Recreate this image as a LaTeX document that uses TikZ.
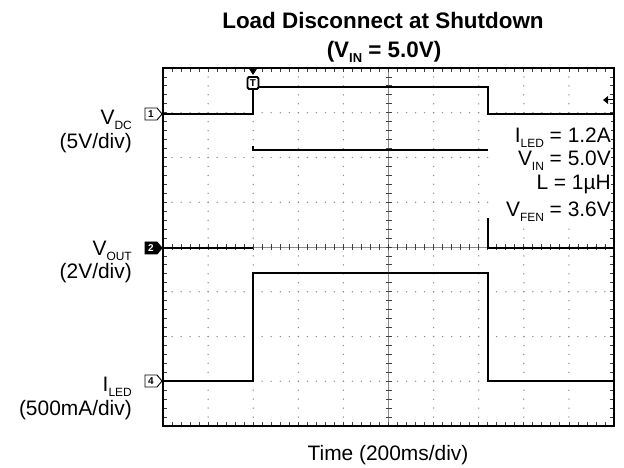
\documentclass[tikz,border=0pt]{standalone}
\usepackage{fontspec}
\setmainfont{Liberation Sans}
\newcommand\lsub[1]{\raisebox{-5bp}{\fontsize{12}{12}\selectfont #1}}
\begin{document}
\begin{tikzpicture}[x=1bp,y=-1bp,
 every node/.style={font=\fontsize{21}{24}\selectfont,inner sep=0pt},
 trace/.style={line width=2.6bp,line join=miter},
 tick/.style={black!75,line width=0.8bp}]
 \useasboundingbox (0,0) rectangle (624,468);
 % grid dots
 \foreach \i in {1,...,9}
  \foreach \k in {1,...,39}
   \fill [black!45] (163+45.1*\i,68+8.95*\k) circle (0.75);
 \foreach \j in {1,...,7}
  \foreach \k in {1,...,49}
   \fill [black!45] (163+9.02*\k,68+44.75*\j) circle (0.75);
 % centre axes and border ticks
 \draw [black!45,line width=0.6bp] (388.5,68) -- (388.5,426) (163,247) -- (614,247);
 \foreach \k in {1,...,39} {
  \draw [tick] (385.5,68+8.95*\k) -- (391.5,68+8.95*\k);
  \draw [tick] (163,68+8.95*\k) -- (167,68+8.95*\k);
  \draw [tick] (614,68+8.95*\k) -- (610,68+8.95*\k);
 }
 \foreach \k in {1,...,49} {
  \draw [tick] (163+9.02*\k,244) -- (163+9.02*\k,250);
  \draw [tick] (163+9.02*\k,68) -- (163+9.02*\k,72);
  \draw [tick] (163+9.02*\k,426) -- (163+9.02*\k,422);
 }
 \draw [line width=2.8bp] (163,68) rectangle (614,426);
 % traces
 \draw [trace] (163,114) -- (253,114) -- (253,87) -- (488,87) -- (488,114) -- (614,114);
 \draw [trace] (163,248) -- (253,248);
 \draw [trace] (253,146) -- (253,150) -- (488,150);
 \draw [trace] (488,218) -- (488,248) -- (614,248);
 \draw [trace] (163,381) -- (253,381) -- (253,273) -- (488,273) -- (488,381) -- (614,381);
 % trigger marks
 \fill (248.5,68) -- (257.5,68) -- (253,75) -- cycle;
 \draw [line width=1.8bp,fill=white,rounded corners=1.5bp] (247.5,77) rectangle (258.5,89);
 \node [font=\bfseries\fontsize{10}{10}\selectfont] (trig) at (253,83) {T};
 \fill (603,100) -- (608,96) -- (608,104) -- cycle;
 \draw [line width=1bp] (608,100) -- (613,100);
 % channel tags
 \foreach \n/\y/\f/\t in {1/114/white/black,2/248/black/white,4/381/white/black} {
  \draw [line width=0.9bp,fill=\f] (145,\y-6) -- (157,\y-6) -- (162,\y) -- (157,\y+6) -- (145,\y+6) -- cycle;
  \node [font=\bfseries\fontsize{10}{10}\selectfont,text=\t] (ch\n) at (151,\y) {\n};
 }
 % text
 \node [font=\bfseries\fontsize{22.5}{26}\selectfont,anchor=base] (title) at (383,29) {Load Disconnect at Shutdown};
 \node [font=\bfseries\fontsize{22.5}{26}\selectfont,anchor=base] (subtitle) at (384,58)
  {(V\raisebox{-5bp}{\fontsize{13}{13}\selectfont\bfseries IN} = 5.0V)};
 \node [anchor=base east] (vdc) at (132,125) {V\lsub{DC}};
 \node [anchor=base east] (vdcdiv) at (132,149) {(5V/div)};
 \node [anchor=base east] (vout) at (132,256) {V\lsub{OUT}};
 \node [anchor=base east] (voutdiv) at (132,279) {(2V/div)};
 \node [anchor=base east] (iled) at (132,391) {I\lsub{LED}};
 \node [anchor=base east] (iledDiv) at (132,415) {(500mA/div)};
 \fill [white] (491,119) rectangle (611,224);
 \node [anchor=base east] (cond1) at (611,143) {I\lsub{LED} = 1.2A};
 \node [anchor=base east] (cond2) at (611,166) {V\lsub{IN} = 5.0V};
 \node [anchor=base east] (cond3) at (611,190) {L = 1µH};
 \node [anchor=base east] (cond4) at (611,217) {V\lsub{FEN} = 3.6V};
 \node [anchor=base] (time) at (388,460) {Time (200ms/div)};
\end{tikzpicture}
\end{document}
